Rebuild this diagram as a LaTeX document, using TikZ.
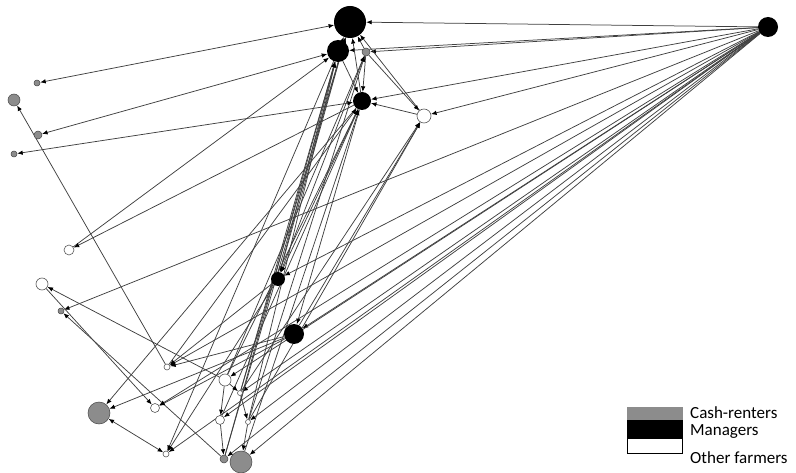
\documentclass[tikz,border=0pt]{standalone}
\usepackage{fontspec}
\setmainfont{Carlito}
\usepackage{tikz}
\usetikzlibrary{arrows.meta,backgrounds}

\begin{document}
\begin{tikzpicture}[x=1pt, y=-1pt, >={Latex[length=5.5pt,width=4.5pt,color=black]},
    actor/.style={circle, inner sep=0pt, minimum size=#1},
    mgr/.style={actor=#1, fill=black},
    cash/.style={actor=#1, fill=gray!90, draw=gray!55!black, line width=0.5pt},
    other/.style={actor=#1, fill=white, draw=black!65, line width=0.6pt},
    link/.style={draw=black!75, line width=0.75pt},
    keytext/.style={anchor=west, inner sep=0pt, font=\fontsize{17}{20}\selectfont}]
    \useasboundingbox (0,0) rectangle (796,473);

    % managers
    \node[mgr=32] (mA) at (350,22) {};
    \node[mgr=22] (mB) at (338,51) {};
    \node[mgr=18] (mC) at (362,101) {};
    \node[mgr=14] (mD) at (278,279) {};
    \node[mgr=20] (mE) at (294,334) {};
    \node[mgr=20] (mR) at (768,27) {};
    % cash-renters
    \node[cash=8] (cA) at (366,52) {};
    \node[cash=6] (cB) at (37,83) {};
    \node[cash=12] (cC) at (14,100) {};
    \node[cash=8] (cD) at (38,135) {};
    \node[cash=6] (cE) at (14,154) {};
    \node[cash=6] (cF) at (61,311) {};
    \node[cash=22] (cG) at (99,413) {};
    \node[cash=8] (cH) at (224,459) {};
    \node[cash=22] (cI) at (241,462) {};
    % other farmers
    \node[other=14] (oA) at (424,116) {};
    \node[other=10] (oB) at (69,250) {};
    \node[other=12] (oC) at (42,284) {};
    \node[other=6] (oD) at (167,367) {};
    \node[other=12] (oE) at (225,380) {};
    \node[other=9] (oF) at (155,408) {};
    \node[other=9] (oG) at (220,420) {};
    \node[other=6] (oH) at (166,454) {};
    \node[other=5] (oI) at (240,393) {};
    \node[other=5] (oJ) at (248,422) {};

    \begin{pgfonlayer}{background}
    % one-way ties
    \foreach \a/\b in {mR/mA, mR/mB, mR/cA, mR/mC, mR/oA, mR/cF, mR/mD, mR/oD,
        mR/oF, mR/mE, mR/oE, mR/oI, mR/oG, mR/oH, mR/oJ, mR/cH, mR/cI,
        mB/mA, cA/mA, mC/mA, oA/mA, mB/mC, cA/mC, oA/mC, cA/oA,
        mA/mD, mB/mD, mC/mD, cA/mD, mC/mE,
        oD/cC, oB/mB, mC/oB, oE/oC, oC/oF, cH/cF,
        mC/cG, mE/cG, mE/oF, mE/oD, mD/oD, mB/oH, mD/oH,
        cH/mB, cH/mA, cI/mC, oJ/mB, oJ/cA, oG/mC, oI/mA, oI/mB,
        oE/mC, oE/cA, oD/mC, mE/oA, oJ/oA, oI/oA,
        oE/oG, oI/oJ, oG/cH, oJ/cI, oE/oI}
        \draw[link, ->] (\a) -- (\b);
    % two-way ties
    \foreach \a/\b in {mA/cB, mB/cD, mC/cE, cG/oH}
        \draw[link, <->] (\a) -- (\b);
    \end{pgfonlayer}

    % key
    \fill[gray!90] (627,407) rectangle (683,420);
    \fill[black] (627,420) rectangle (683,438);
    \draw[black, line width=1pt, fill=white] (627.5,438) rectangle (682.5,453);
    \node[keytext] (kCash) at (690,413) {Cash-renters};
    \node[keytext] (kMgr) at (690,432) {Managers};
    \node[keytext] (kOther) at (690,458) {Other farmers};
\end{tikzpicture}
\end{document}
